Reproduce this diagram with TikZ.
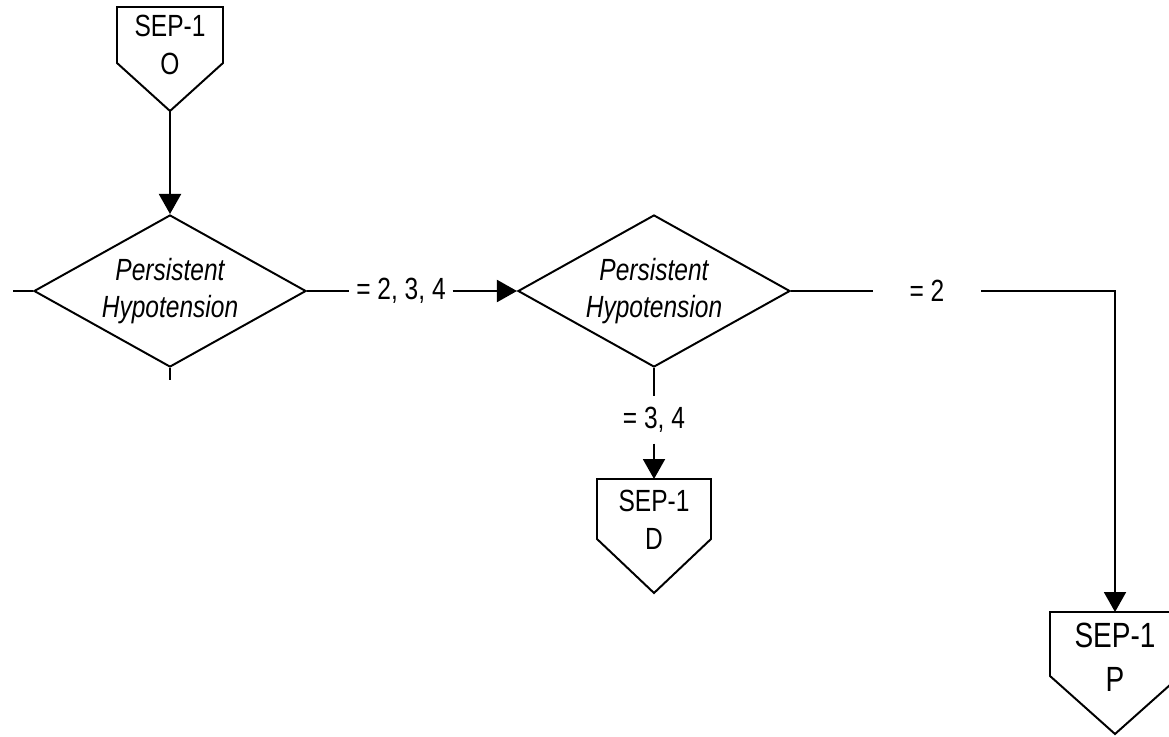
\documentclass[tikz,border=0pt]{standalone}
\usepackage{fontspec}
\setmainfont{Liberation Sans}[FakeStretch=0.8]
\usetikzlibrary{arrows.meta,shapes.geometric,calc}

% outline of an off-page connector round a node
\newcommand{\sepoutline}[3]{%
  \coordinate (#1tip) at ($(#1.south)+(0,#3)$);
  \draw[line join=miter] (#1.north west) -- (#1.north east)
    -- ($(#1.south east)+(0,-#2)$) -- (#1tip)
    -- ($(#1.south west)+(0,-#2)$) -- cycle;}

\begin{document}
\begin{tikzpicture}[x=0.025cm, y=-0.025cm, line width=1.4pt,
    >={Triangle[length=0.5cm,width=0.55cm]},
    every node/.style={font=\fontsize{21.8pt}{26.5pt}\selectfont, inner sep=0pt},
    decision/.style={diamond, draw, aspect=1.79, minimum width=6.8cm, minimum height=3.8cm,
      align=center, font=\fontsize{21.8pt}{26.5pt}\selectfont\itshape},
    offpage/.style={align=center, font=\fontsize{21.8pt}{27pt}\selectfont},
    cond/.style={fill=white, inner xsep=0.15cm, inner ysep=0.25cm}]
  \useasboundingbox (0,0) rectangle (1169,736);

  \node[offpage, minimum width=2.6cm, minimum height=1.85cm] (O) at (170,45) {SEP-1\\O};
  \sepoutline{O}{20}{28}
  \node[decision] (d1) at (170,291) {Persistent\\Hypotension};
  \node[decision] (d2) at (654,291) {Persistent\\Hypotension};
  \node[cond] (c234) at (401,291) {= 2, 3, 4};
  \node[cond, inner xsep=0.9cm] (c2) at (927,291) {= 2};
  \node[cond] (c34) at (654,420) {= 3, 4};
  \node[offpage, minimum width=2.8cm, minimum height=2cm] (D) at (654,520) {SEP-1\\D};
  \sepoutline{D}{22}{32}
  \node[offpage, minimum width=3.2cm, minimum height=2.225cm,
    font=\fontsize{24.9pt}{31pt}\selectfont] (P) at (1115,657.5) {SEP-1\\P};
  \sepoutline{P}{27}{31}
  \coordinate (lend) at (13,291);
  \coordinate (bend) at (170,380);

  \draw[->] (Otip) -- (d1.north);
  \draw (lend) -- (d1.west);
  \draw (d1.south) -- (bend);
  \draw (d1.east) -- (c234.west);
  \draw[->] (c234.east) -- (d2.west);
  \draw (d2.east) -- (c2.west);
  \draw[->] (c2.east) -| (P.north);
  \draw (d2.south) -- (c34.north);
  \draw[->] (c34.south) -- (D.north);
\end{tikzpicture}
\end{document}
